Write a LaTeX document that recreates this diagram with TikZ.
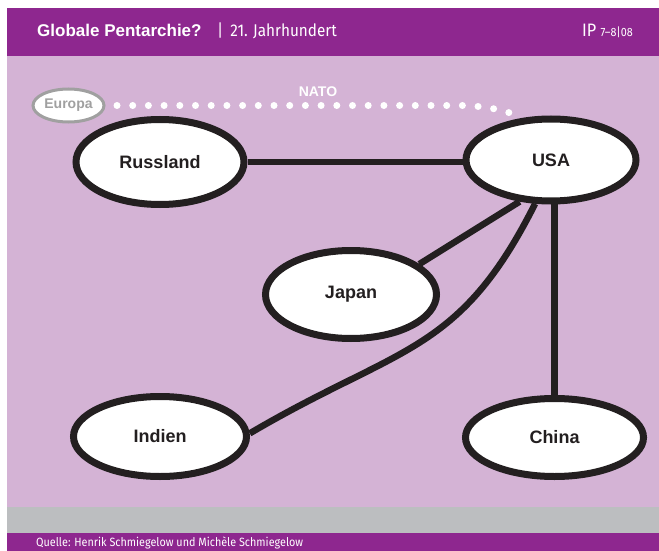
\documentclass[tikz,border=0pt]{standalone}
\usepackage{fontspec}
\setmainfont{Liberation Sans}
\newfontfamily\condfont{Fira Sans}[FakeStretch=0.9]
\usetikzlibrary{shapes.geometric}
\definecolor{hdrpurple}{RGB}{142,39,143}
\definecolor{lilac}{RGB}{212,179,213}
\definecolor{bandgray}{RGB}{188,190,192}
\definecolor{ink}{RGB}{35,31,32}
\definecolor{europagray}{RGB}{160,160,160}
\pgfdeclarelayer{bg}
\pgfdeclarelayer{lines}
\pgfsetlayers{bg,lines,main}
\tikzset{
  power/.style={ellipse, draw=ink, line width=7pt, fill=white, inner sep=0pt,
    text=ink, font=\fontsize{18}{20}\selectfont\bfseries},
  link/.style={draw=ink, line width=6.5pt},
  minor/.style={ellipse, draw=europagray, line width=3pt, fill=white, inner sep=0pt,
    text=europagray, font=\fontsize{14}{16}\selectfont\bfseries},
  natodots/.style={draw=white, line width=7pt, line cap=round, dash pattern=on 0pt off 15.7pt},
  hdrtext/.style={text=white, inner sep=0pt, anchor=base west},
}
\begin{document}
\begin{tikzpicture}[x=1pt,y=-1pt]
\useasboundingbox (0,0) rectangle (659,551);
\begin{pgfonlayer}{bg}
  \fill[hdrpurple] (7,8) rectangle (659,56);
  \fill[lilac] (7,56) rectangle (659,507);
  \fill[bandgray] (7,507) rectangle (659,533);
  \fill[hdrpurple] (7,533) rectangle (659,551);
\end{pgfonlayer}

% header
\node[hdrtext, font=\bfseries\fontsize{17}{17}\selectfont] (title) at (37,37) {Globale Pentarchie?};
\node[hdrtext, font=\condfont\fontsize{17}{17}\selectfont] (sub) at (217,37) {|\hspace{7pt}21. Jahrhundert};
\node[hdrtext, anchor=base east, font=\condfont\fontsize{18}{18}\selectfont] (issue) at (633,37) {IP \fontsize{12}{12}\selectfont 7–8|08};

% footer
\node[hdrtext, font=\condfont\fontsize{12}{12}\selectfont] (source) at (36,546.5) {Quelle: Henrik Schmiegelow und Michèle Schmiegelow};

% powers
\node[power, minimum width=168pt, minimum height=85pt] (russland) at (160,162) {Russland};
\node[power, minimum width=170pt, minimum height=82pt] (usa) at (551,160) {USA};
\node[power, minimum width=171pt, minimum height=88pt] (japan) at (351,294.5) {Japan};
\node[power, minimum width=173pt, minimum height=80pt] (indien) at (160,436.5) {Indien};
\node[power, minimum width=178pt, minimum height=78pt] (china) at (554.5,437.5) {China};
\node[minor, minimum width=71pt, minimum height=33pt] (europa) at (68.5,105.5) {Europa};
\node[text=white, inner sep=0pt, font=\fontsize{14}{16}\selectfont\bfseries] (nato) at (318,92) {NATO};
\coordinate (natoend) at (513,114);

\begin{pgfonlayer}{lines}
  \draw[link] (russland.east) -- (usa.west |- russland.east);
  \draw[link] (usa.233) -- (japan.24);
  \draw[link] (indien.2) .. controls (400,345) and (459,355) .. (usa.250);
  \draw[link] (china.north) -- (china.north |- usa.center);
\end{pgfonlayer}
\draw[natodots] ([xshift=11.5pt]europa.east) -- (463,105.5) .. controls (480,106) and (498,108.5) .. (natoend);
\end{tikzpicture}
\end{document}
